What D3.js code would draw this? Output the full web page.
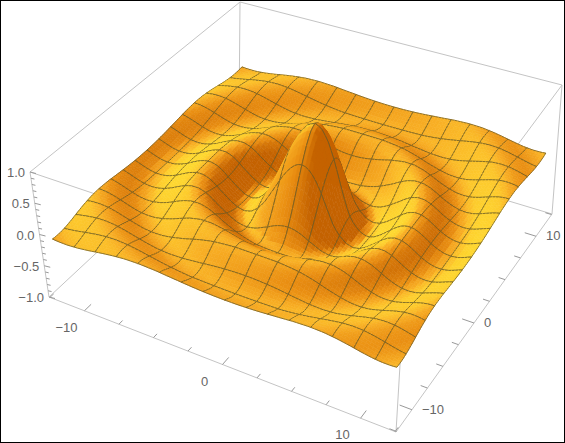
<!DOCTYPE html>
<html><head><meta charset="utf-8">
<script src="https://cdn.jsdelivr.net/npm/d3@7"></script>
<style>body{margin:0;background:#fff}svg{display:block}</style>
</head><body>
<svg id="c" width="565" height="443"></svg>
<script>
// Radial profile of the surface height: radius -> height
const radii = [0,0.5,1,1.5,2,2.5,3,3.5,4,4.5,5,5.5,6,6.5,7,7.5,8,8.5,9,9.5,10,10.5,11,11.5,12,12.5,13,13.5,14,14.5,15,15.5,16,16.5,17,17.5,18];
const heights = [1,0.959,0.841,0.665,0.455,0.239,0.047,-0.100,-0.189,-0.217,-0.192,-0.128,-0.047,0.033,0.094,0.125,0.124,0.094,0.046,-0.008,-0.054,-0.084,-0.091,-0.078,-0.045,-0.005,0.032,0.060,0.071,0.065,0.043,0.014,-0.018,-0.043,-0.057,-0.056,-0.042];
const xyTicks = [-10,0,10];
const zTicks = [-1.0,-0.5,0.0,0.5,1.0];
const extent = 4*Math.PI;

const svg = d3.select("#c");
const prof = d3.scaleLinear().domain(radii).range(heights);
const su = d3.scaleLinear().domain([-extent,extent]).range([0,1]);
const sw = d3.scaleLinear().domain([-1,1]).range([0,1]);

const B = {"00":[49,297],"10":[396,432],"11":[552,214],"01":[239,120]};
const M = {"00":[52,236],"10":[397,364],"11":[546,150],"01":[242,64]};
const T = {"00":[30,172],"10":[404,298],"11":[562,85],"01":[240,2]};
function lerp(a,b,t){return [a[0]+(b[0]-a[0])*t,a[1]+(b[1]-a[1])*t];}
function bil(C,u,v){return lerp(lerp(C["00"],C["10"],u),lerp(C["01"],C["11"],u),v);}
function proj(x,y,z){
  const u=su(x),v=su(y),w=sw(z);
  const b=bil(B,u,v),m=bil(M,u,v),t=bil(T,u,v);
  const l0=2*(w-0.5)*(w-1),l1=-4*w*(w-1),l2=2*w*(w-0.5);
  let px=b[0]*l0+m[0]*l1+t[0]*l2, py=b[1]*l0+m[1]*l1+t[1]*l2;
  if(w>0.5){const k=16*u*(1-u)*v*(1-v)*(w-0.5)*2;px+=6*k;py-=16*k;}
  return [px,py];
}

svg.append("rect").attr("x",0.5).attr("y",0.5).attr("width",564).attr("height",442).attr("fill","none").attr("stroke","#000");

const E=extent;
function cp(p){return p[2]>0?bil(T,su(p[0]),su(p[1])):bil(B,su(p[0]),su(p[1]));}
const box=[[[-E,-E,-1],[E,-E,-1]],[[E,-E,-1],[E,E,-1]],[[E,E,-1],[-E,E,-1]],[[-E,E,-1],[-E,-E,-1]],
[[-E,-E,1],[E,-E,1]],[[E,-E,1],[E,E,1]],[[E,E,1],[-E,E,1]],[[-E,E,1],[-E,-E,1]],
[[-E,-E,-1],[-E,-E,1]],[[E,-E,-1],[E,-E,1]],[[E,E,-1],[E,E,1]],[[-E,E,-1],[-E,E,1]]];
svg.append("g").selectAll("line").data(box).join("line")
 .attr("x1",d=>cp(d[0])[0]).attr("y1",d=>cp(d[0])[1])
 .attr("x2",d=>cp(d[1])[0]).attr("y2",d=>cp(d[1])[1])
 .attr("stroke","#c4c4c4").attr("stroke-width",1);

const tg=svg.append("g");
const minor=d3.range(-12.5,12.6,2.5);
function bp(x,y){return bil(B,su(x),su(y));}
function lp(z){return lerp(B["00"],T["00"],sw(z));}
minor.forEach(t=>{
  const big=xyTicks.includes(t);
  let a=bp(t,-E),b=bp(t,-E+(big?0.9:0.5));
  tg.append("line").attr("x1",a[0]).attr("y1",a[1]).attr("x2",b[0]).attr("y2",b[1]).attr("stroke","#999");
  a=bp(E,t);b=bp(E-(big?0.9:0.5),t);
  tg.append("line").attr("x1",a[0]).attr("y1",a[1]).attr("x2",b[0]).attr("y2",b[1]).attr("stroke","#999");
});
d3.range(-1,1.01,0.1).forEach(z=>{
  const big=Math.abs(z*2-Math.round(z*2))<1e-6;
  const a=lp(z),b=[a[0]+(big?6:3.5),a[1]+(big?1.5:0.8)];
  tg.append("line").attr("x1",a[0]).attr("y1",a[1]).attr("x2",b[0]).attr("y2",b[1]).attr("stroke","#999");
});
const lab={"font-family":"Liberation Sans, Arial, sans-serif","font-size":"13px","fill":"#666"};
function txt(p,s,anchor){const t=tg.append("text").attr("x",p[0]).attr("y",p[1]).attr("text-anchor",anchor).text(s);for(const k in lab)t.attr(k,lab[k]);}
xyTicks.forEach(t=>{const p=bp(t,-E);txt([p[0]-18,p[1]+21],t<0?"\u2212"+(-t):""+t,"middle");});
xyTicks.forEach(t=>{const p=bp(E,t);txt([p[0]+10,p[1]+4],t<0?"\u2212"+(-t):""+t,"start");});
zTicks.forEach(z=>{const p=lp(z);txt([p[0]-5,p[1]+5],(z<0?"\u2212":"")+Math.abs(z).toFixed(1),"end");});

const N=96, every=6;
const xs=d3.range(N+1).map(i=>-E+2*E*i/N);
const Z=xs.map(x=>xs.map(y=>prof(Math.hypot(x,y))));
function nrm(l){const n=Math.hypot(...l);return l.map(c=>c/n);}
const L1=nrm([-0.6,-0.4,0.7]), L2=nrm([-0.3,0.7,0.6]);
const w1=0.65,w2=0.35;
const flat=w1*L1[2]+w2*L2[2];
const color=d3.scaleLinear().domain([flat-0.45,flat-0.18,flat,flat+0.1,flat+0.2]).range(["#c46200","#ea8f12","#f8ae24","#fdc92c","#ffe332"]).clamp(true);
const quads=[];
for(let i=0;i<N;i++)for(let j=0;j<N;j++){
  const x0=xs[i],x1=xs[i+1],y0=xs[j],y1=xs[j+1];
  const z00=Z[i][j],z10=Z[i+1][j],z11=Z[i+1][j+1],z01=Z[i][j+1];
  const h=2*E/N, zs=6.0;
  const dzx=((z10+z11)-(z00+z01))/2*zs/h, dzy=((z01+z11)-(z00+z10))/2*zs/h;
  const n=nrm([-dzx,-dzy,1]);
  const d1=Math.max(0,n[0]*L1[0]+n[1]*L1[1]+n[2]*L1[2]);
  const d2=Math.max(0,n[0]*L2[0]+n[1]*L2[1]+n[2]*L2[2]);
  const zm=(z00+z10+z11+z01)/4;
  quads.push({i,j,pts:[proj(x0,y0,z00),proj(x1,y0,z10),proj(x1,y1,z11),proj(x0,y1,z01)],
    depth:((x0+x1)/2-(y0+y1)/2)+zm*1.5, c:color(w1*d1+w2*d2)});
}
quads.sort((a,b)=>a.depth-b.depth);
const sg=svg.append("g");
const line=d3.line();
quads.forEach(q=>{
  sg.append("path").attr("d",line(q.pts)+"Z").attr("fill",q.c).attr("stroke",q.c).attr("stroke-width",0.6);
  const p=q.pts, segs=[];
  if(q.i%every===0)segs.push([p[0],p[3]]);
  if((q.i+1)%every===0)segs.push([p[1],p[2]]);
  if(q.j%every===0)segs.push([p[0],p[1]]);
  if((q.j+1)%every===0)segs.push([p[3],p[2]]);
  segs.forEach(s=>sg.append("path").attr("d",line(s)).attr("stroke","#665a28").attr("stroke-width",0.9).attr("stroke-opacity",0.85).attr("fill","none"));
});
</script>
</body></html>
